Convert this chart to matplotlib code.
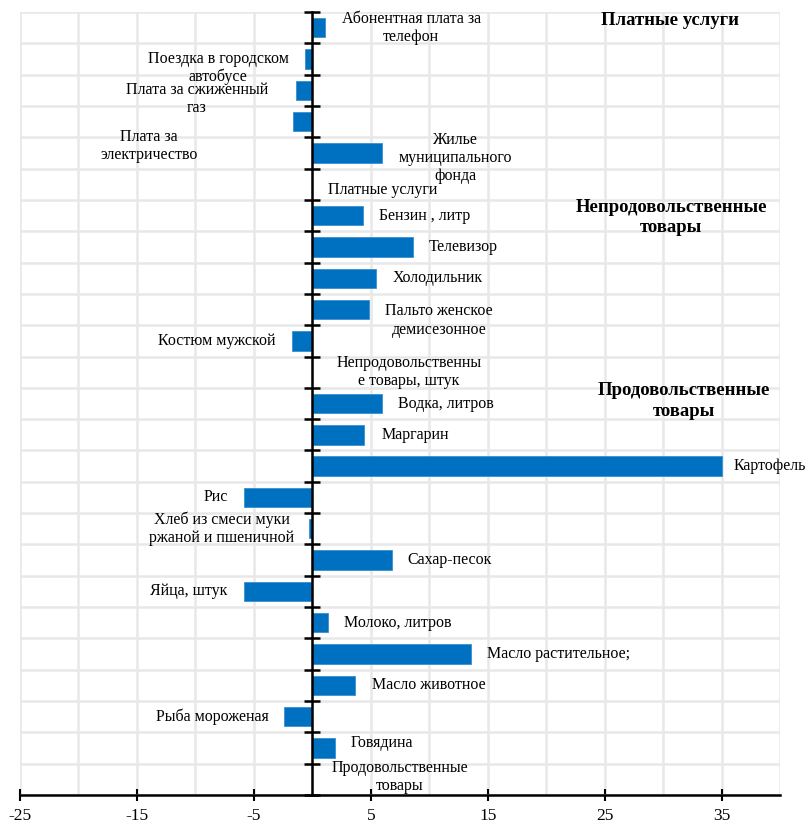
import numpy as np
import matplotlib
matplotlib.use("Agg")
import matplotlib.pyplot as plt

plt.rcParams['font.family'] = ['Liberation Serif', 'DejaVu Serif']
plt.rcParams['axes.unicode_minus'] = False

# категории сверху вниз
labels = [
    "Абонентная плата за\nтелефон",
    "Поездка в городском\nавтобусе",
    "Плата за сжиженный\nгаз",
    "Плата за\nэлектричество",
    "Жилье\nмуниципального\nфонда",
    "Платные услуги",
    "Бензин , литр",
    "Телевизор",
    "Холодильник",
    "Пальто женское\nдемисезонное",
    "Костюм мужской",
    "Непродовольственны\nе товары, штук",
    "Водка, литров",
    "Маргарин",
    "Картофель",
    "Рис",
    "Хлеб из смеси муки\nржаной и пшеничной",
    "Сахар-песок",
    "Яйца, штук",
    "Молоко, литров",
    "Масло растительное;",
    "Масло животное",
    "Рыба мороженая",
    "Говядина",
    "Продовольственные\nтовары",
]
values = [1.06, -0.66, -1.41, -1.67, 5.98, 0, 4.37, 8.58, 5.48, 4.87,
          -1.72, 0, 5.94, 4.44, 35.0, -5.86, -0.27, 6.78, -5.86, 1.34,
          13.6, 3.65, -2.38, 1.94, 0]

groups = ["Платные услуги", "Непродовольственные\nтовары", "Продовольственные\nтовары"]

# сдвиги подписей (пиксели): отступ от конца столбика, смещение вниз
label_gap = [17, 16, 28, 95, 16, 16, 16, 16, 16, 16, 17, 24, 16, 17, 12,
             16, 15, 16, 16, 16, 16, 17, 16, 16, 19]
label_down = [0, 9, 9, 24, 5, 6, 0, 0, 0, 11, 0, 0, 0, 0, 0,
              0, 0, 0, 0, 0, 0, 0, 0, -5, -2]
group_pos = [(30.6, -0.22), (30.7, 6.06), (31.8, 11.92)]

fig = plt.figure(figsize=(8.05, 8.25), dpi=100)
ax = fig.add_axes([20/805, 1-795/825, 760/805, 783/825])

y = np.arange(len(values))
ax.barh(y, values, height=0.62, color='#0070c0', edgecolor='#3a8fd0',
        linewidth=0.6, zorder=3)

ax.set_xlim(-25, 40)
ax.set_ylim(len(values) - 0.5, -0.5)

# сетка
ax.set_xticks(np.arange(-25, 36, 10))
ax.set_xticks(np.arange(-20, 41, 10), minor=True)
ax.set_yticks(np.arange(-0.5, len(values), 1))
ax.grid(True, which='both', axis='x', color='#e8e8e8', linewidth=1.8, zorder=0)
ax.grid(True, which='major', axis='y', color='#e8e8e8', linewidth=1.8, zorder=0)

ax.spines['top'].set_visible(False)
ax.spines['right'].set_visible(False)
ax.spines['left'].set_position(('data', 0))
ax.spines['left'].set_linewidth(1.8)
ax.spines['left'].set_zorder(4)
ax.spines['bottom'].set_linewidth(1.8)
ax.tick_params(axis='y', which='major', direction='inout', length=11, width=1.8,
               labelleft=False)
ax.tick_params(axis='x', which='major', direction='inout', length=9, width=1.5,
               labelsize=12.5, pad=5)
ax.tick_params(axis='x', which='minor', length=0)
ax.set_xticklabels([str(v) for v in range(-25, 36, 10)])

for i, (lab, v) in enumerate(zip(labels, values)):
    sign = 1 if v >= 0 else -1
    ax.annotate(lab, xy=(v, i), xytext=(sign * label_gap[i], -label_down[i]),
                textcoords='offset pixels', ha='left' if sign > 0 else 'right',
                va='center', multialignment='center', fontsize=11.5,
                linespacing=1.18, zorder=5)

for g, (gx, gy) in zip(groups, group_pos):
    ax.text(gx, gy, g, ha='center', va='center', fontsize=13.5,
            fontweight='bold', linespacing=1.3, zorder=5)

fig.savefig("out.png", dpi=100)
